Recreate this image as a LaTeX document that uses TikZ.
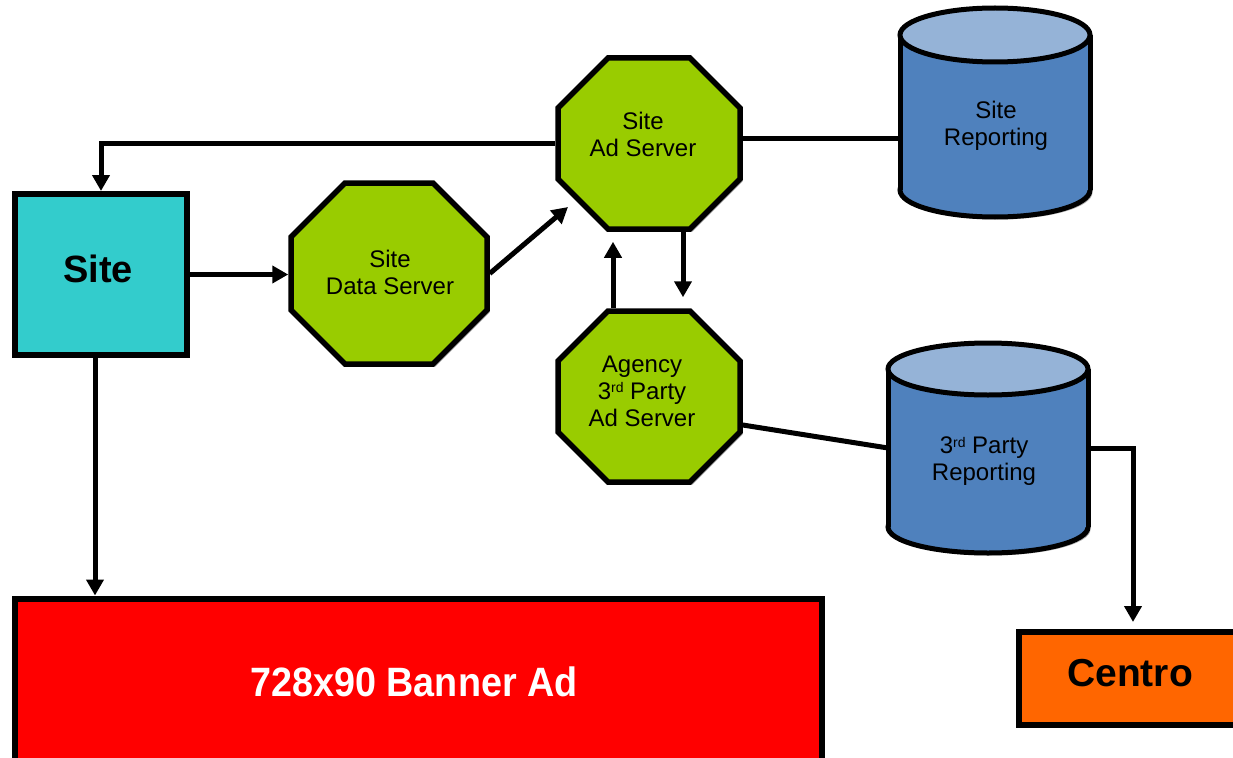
\documentclass[tikz,border=0pt]{standalone}
\usepackage{fontspec}
\setmainfont{Liberation Sans}
\usetikzlibrary{arrows.meta,shadows,calc}

\definecolor{sitecyan}{HTML}{33CCCC}
\definecolor{servgreen}{HTML}{99CC00}
\definecolor{dbbody}{HTML}{4F81BD}
\definecolor{dbtop}{HTML}{95B3D7}
\definecolor{adred}{HTML}{FF0000}
\definecolor{centroorange}{HTML}{FF6600}

% small raised ordinal suffix, as in 3rd
\newcommand\ordsup[1]{\raisebox{0.28em}{\fontsize{14}{14}\selectfont #1}}

% database drum: centre x, top y, bottom y, x radius, y radius
\newcommand\dbdrum[5]{%
  \fill[black, opacity=0.3, shift={(2.5,2.5)}]
    (#1,#3) ellipse [x radius=#4, y radius=#5]
    (#1-#4,#2) rectangle (#1+#4,#3);
  \filldraw[dbline, fill=dbbody] (#1,#3) ellipse [x radius=#4, y radius=#5];
  \fill[dbbody] (#1-#4,#2) rectangle (#1+#4,#3);
  \draw[dbline] (#1-#4,#2) -- (#1-#4,#3) (#1+#4,#2) -- (#1+#4,#3);
  \filldraw[dbline, fill=dbtop] (#1,#2) ellipse [x radius=#4, y radius=#5];
}

% server octagon: name, centre x, centre y, half width, half height, corner cut
\newcommand\octnode[6]{%
  \fill[black, opacity=0.3, shift={(2.5,2.5)}]
    (#2-#4+#6,#3-#5) -- (#2+#4-#6,#3-#5) -- (#2+#4,#3-#5+#6) -- (#2+#4,#3+#5-#6)
    -- (#2+#4-#6,#3+#5) -- (#2-#4+#6,#3+#5) -- (#2-#4,#3+#5-#6) -- (#2-#4,#3-#5+#6) -- cycle;
  \filldraw[octline, fill=servgreen]
    (#2-#4+#6,#3-#5) -- (#2+#4-#6,#3-#5) -- (#2+#4,#3-#5+#6) -- (#2+#4,#3+#5-#6)
    -- (#2+#4-#6,#3+#5) -- (#2-#4+#6,#3+#5) -- (#2-#4,#3+#5-#6) -- (#2-#4,#3-#5+#6) -- cycle;
  \node[hold, outer sep=2.75pt, minimum width=2*#4, minimum height=2*#5] (#1) at (#2,#3) {};
}

\begin{document}
\begin{tikzpicture}[x=1pt,y=-1pt,
  shade box/.style={drop shadow={shadow xshift=2.5pt, shadow yshift=-2.5pt, opacity=0.3, fill=black}},
  box/.style={draw, line width=6pt, inner sep=0pt, shade box},
  octline/.style={line width=5.5pt, line join=miter},
  dbline/.style={line width=5pt},
  hold/.style={inner sep=0pt, outer sep=0pt},
  lbl/.style={font=\fontsize{24}{27}\selectfont, align=center, inner sep=0pt},
  line/.style={line width=5pt},
  arr/.style={line, -{Triangle[length=16pt,width=17pt]}}
]
\useasboundingbox (0,0) rectangle (1233,757);

% boxes
\node[box, fill=sitecyan, minimum width=172, minimum height=161] (site) at (101,274.5) {};
\node[box, fill=adred, minimum width=807, minimum height=211] (banner) at (418.5,704) {};
\node[box, fill=centroorange, minimum width=229, minimum height=93] (centro) at (1133,678.5) {};

% servers
\octnode{ads}{649}{143.5}{91}{85.5}{50}
\octnode{dserv}{389}{273.5}{98}{90.5}{54}
\octnode{agency}{649}{396.5}{91}{85.5}{50}

% reporting databases
\dbdrum{995}{35}{190}{95}{27}
\node[hold, minimum width=190, minimum height=209] (srep) at (995,112.5) {};
\dbdrum{988}{369}{527}{100}{26}
\node[hold, minimum width=200, minimum height=210] (trep) at (988,448) {};

% labels
\node[font=\bfseries\fontsize{38}{40}\selectfont, inner sep=0pt] (site-t) at (98,269.4) {Site};
\node[font=\bfseries\fontsize{39}{40}\selectfont, inner sep=0pt] (centro-t) at (1130,673) {Centro};
\node[font=\bfseries\fontsize{41}{42}\selectfont, text=white, inner sep=0pt] (banner-t) at (414,682)
  {\scalebox{0.92}[1]{728x90 Banner Ad}};
\node[lbl] (ads-t) at (643,134.8) {Site\\Ad Server};
\node[lbl] (dserv-t) at (390,272.8) {Site\\Data Server};
\node[lbl] (agency-t) at (642,391.4) {Agency\\3\ordsup{rd} Party\\Ad Server};
\node[lbl] (srep-t) at (996,125.8) {Site\\Reporting};
\node[lbl] (trep-t) at (984,461.4) {3\ordsup{rd} Party\\Reporting};

% connectors
\coordinate (dsTip) at (568,207);
\draw[arr] (ads.west) -| (site.north);
\draw[arr] (site.east) -- (site.east -| dserv.west);
\draw[arr] (dserv.east) -- (dsTip);
\draw[arr, shorten >=10pt] ([xshift=-36pt]agency.north) -- ([xshift=-36pt]ads.south);
\draw[arr, shorten >=11pt] ([xshift=34pt]ads.south) -- ([xshift=34pt]agency.north);
\draw[line] ($(ads.east)+(0,-5.5)$) -- ($(ads.east -| srep.west)+(0,-5.5)$);
\draw[line] ($(agency.east)+(0,28.5)$) -- (trep.west);
\draw[arr, shorten >=7pt] (trep.east) -| (centro.north);
\draw[arr] ([xshift=-6pt]site.south) -- ([xshift=-6pt]site.south |- banner.north);
\end{tikzpicture}
\end{document}
